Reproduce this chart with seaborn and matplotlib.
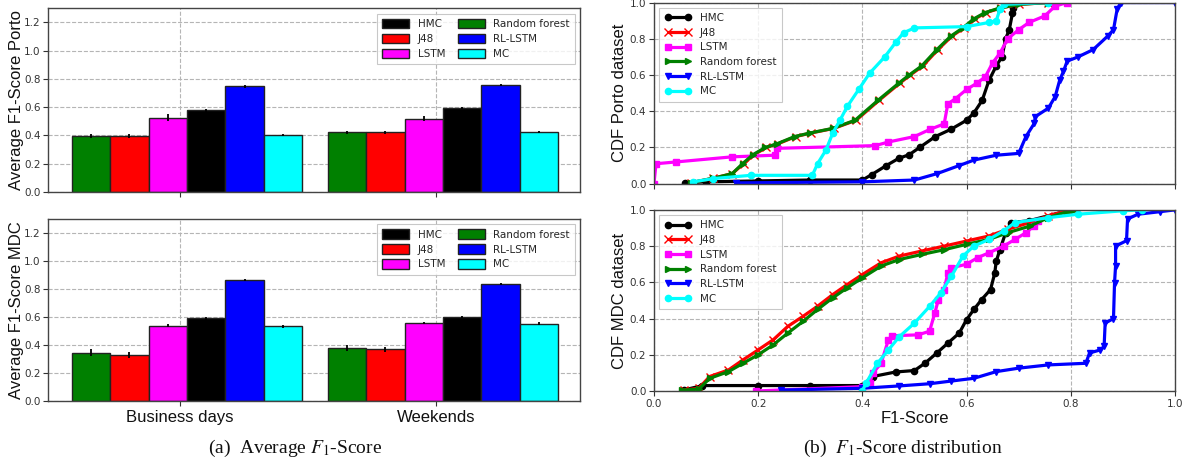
import matplotlib
matplotlib.use("Agg")
import matplotlib.pyplot as plt
import numpy as np
import pandas as pd
import seaborn as sns
from matplotlib.patches import Patch

# ---------------- data ----------------
methods = ["Random forest", "J48", "LSTM", "HMC", "RL-LSTM", "MC"]
legend_order = ["HMC", "J48", "LSTM", "Random forest", "RL-LSTM", "MC"]
periods = ["Business days", "Weekends"]

porto_business = [0.395, 0.395, 0.525, 0.578, 0.748, 0.402]
porto_weekends = [0.420, 0.420, 0.518, 0.595, 0.758, 0.421]
porto_business_err = [0.015, 0.015, 0.025, 0.010, 0.010, 0.010]
porto_weekends_err = [0.012, 0.012, 0.020, 0.008, 0.008, 0.008]

mdc_business = [0.343, 0.328, 0.537, 0.590, 0.863, 0.535]
mdc_weekends = [0.380, 0.368, 0.558, 0.600, 0.837, 0.553]
mdc_business_err = [0.025, 0.020, 0.010, 0.010, 0.008, 0.010]
mdc_weekends_err = [0.020, 0.015, 0.008, 0.008, 0.008, 0.008]

colors = {"Random forest": "#008000", "J48": "#ff0000", "LSTM": "#ff00ff",
          "HMC": "#000000", "RL-LSTM": "#0000ff", "MC": "#00ffff"}
markers = {"HMC": "o", "J48": "x", "LSTM": "s", "Random forest": ">",
           "RL-LSTM": "v", "MC": "o"}

# CDF, Porto dataset
porto_hmc_x = [0.06, 0.10, 0.20, 0.30, 0.40, 0.418, 0.446, 0.47, 0.49, 0.51, 0.54, 0.57, 0.60, 0.614, 0.63, 0.643, 0.657, 0.668, 0.675, 0.682, 0.688, 0.69]
porto_hmc_y = [0.005, 0.01, 0.015, 0.02, 0.02, 0.05, 0.10, 0.14, 0.16, 0.20, 0.26, 0.30, 0.35, 0.39, 0.46, 0.57, 0.65, 0.70, 0.80, 0.85, 0.94, 0.97]
porto_j48_x = [0.071, 0.114, 0.15, 0.172, 0.192, 0.216, 0.238, 0.272, 0.302, 0.345, 0.388, 0.432, 0.472, 0.492, 0.516, 0.545, 0.572, 0.595, 0.616, 0.638, 0.666, 0.70, 0.757]
porto_j48_y = [0.005, 0.03, 0.055, 0.11, 0.16, 0.20, 0.22, 0.26, 0.28, 0.305, 0.35, 0.46, 0.555, 0.60, 0.65, 0.74, 0.815, 0.86, 0.91, 0.945, 0.97, 0.99, 1.0]
porto_lstm_x = [0.0, 0.004, 0.043, 0.15, 0.232, 0.236, 0.425, 0.45, 0.50, 0.53, 0.557, 0.564, 0.579, 0.60, 0.62, 0.636, 0.65, 0.664, 0.679, 0.70, 0.72, 0.75, 0.77, 0.793]
porto_lstm_y = [0.0, 0.11, 0.12, 0.148, 0.157, 0.195, 0.21, 0.23, 0.26, 0.30, 0.33, 0.44, 0.47, 0.52, 0.555, 0.59, 0.667, 0.72, 0.80, 0.85, 0.89, 0.926, 0.98, 1.0]
porto_rf_x = [0.071, 0.114, 0.15, 0.17, 0.19, 0.214, 0.236, 0.27, 0.30, 0.343, 0.386, 0.43, 0.47, 0.49, 0.514, 0.543, 0.57, 0.593, 0.614, 0.636, 0.664, 0.70, 0.757]
porto_rf_y = [0.005, 0.03, 0.055, 0.11, 0.16, 0.20, 0.22, 0.26, 0.28, 0.305, 0.35, 0.46, 0.555, 0.60, 0.65, 0.74, 0.815, 0.86, 0.91, 0.945, 0.97, 0.99, 1.0]
porto_rl_x = [0.157, 0.40, 0.50, 0.543, 0.586, 0.614, 0.657, 0.70, 0.714, 0.73, 0.732, 0.757, 0.77, 0.779, 0.786, 0.793, 0.814, 0.843, 0.871, 0.882, 0.889, 0.896, 1.0]
porto_rl_y = [0.004, 0.01, 0.02, 0.055, 0.10, 0.13, 0.157, 0.167, 0.26, 0.333, 0.37, 0.417, 0.48, 0.574, 0.62, 0.676, 0.70, 0.74, 0.815, 0.85, 0.963, 1.0, 1.0]
porto_mc_x = [0.075, 0.114, 0.186, 0.304, 0.314, 0.33, 0.343, 0.357, 0.371, 0.393, 0.414, 0.443, 0.464, 0.479, 0.50, 0.60, 0.643, 0.657, 0.664, 0.671, 0.757]
porto_mc_y = [0.01, 0.028, 0.046, 0.046, 0.11, 0.185, 0.278, 0.35, 0.426, 0.52, 0.61, 0.70, 0.78, 0.833, 0.86, 0.867, 0.89, 0.90, 0.963, 0.99, 1.0]

# CDF, MDC dataset
mdc_hmc_x = [0.057, 0.093, 0.20, 0.30, 0.40, 0.42, 0.464, 0.50, 0.52, 0.543, 0.564, 0.586, 0.60, 0.614, 0.629, 0.646, 0.654, 0.657, 0.664, 0.675, 0.686, 0.72, 0.793]
mdc_hmc_y = [0.005, 0.03, 0.03, 0.03, 0.03, 0.08, 0.105, 0.113, 0.153, 0.21, 0.264, 0.32, 0.394, 0.45, 0.505, 0.56, 0.65, 0.717, 0.78, 0.874, 0.93, 0.94, 0.995]
mdc_j48_x = [0.057, 0.086, 0.107, 0.143, 0.171, 0.20, 0.229, 0.257, 0.286, 0.314, 0.343, 0.371, 0.40, 0.436, 0.471, 0.514, 0.557, 0.60, 0.643, 0.679, 0.721, 0.757, 0.793, 0.804]
mdc_j48_y = [0.005, 0.015, 0.08, 0.116, 0.172, 0.227, 0.283, 0.357, 0.412, 0.468, 0.532, 0.588, 0.643, 0.708, 0.745, 0.773, 0.80, 0.828, 0.856, 0.893, 0.93, 0.967, 0.995, 1.0]
mdc_lstm_x = [0.196, 0.40, 0.414, 0.42, 0.436, 0.45, 0.457, 0.507, 0.529, 0.539, 0.546, 0.557, 0.564, 0.571, 0.60, 0.621, 0.643, 0.671, 0.693, 0.714, 0.729, 0.737]
mdc_lstm_y = [0.0, 0.024, 0.043, 0.098, 0.153, 0.283, 0.305, 0.31, 0.33, 0.43, 0.505, 0.56, 0.652, 0.68, 0.70, 0.736, 0.763, 0.80, 0.837, 0.874, 0.91, 0.94]
mdc_rf_x = [0.054, 0.086, 0.107, 0.143, 0.171, 0.20, 0.229, 0.257, 0.286, 0.314, 0.343, 0.371, 0.40, 0.436, 0.471, 0.514, 0.557, 0.60, 0.643, 0.679, 0.721, 0.757, 0.793, 0.807]
mdc_rf_y = [0.005, 0.01, 0.07, 0.107, 0.153, 0.20, 0.255, 0.32, 0.384, 0.45, 0.514, 0.57, 0.625, 0.69, 0.726, 0.754, 0.78, 0.81, 0.837, 0.874, 0.91, 0.957, 0.99, 1.0]
mdc_rl_x = [0.243, 0.40, 0.471, 0.529, 0.571, 0.614, 0.657, 0.70, 0.757, 0.829, 0.836, 0.857, 0.864, 0.866, 0.882, 0.884, 0.886, 0.886, 0.907, 0.909, 0.929, 0.971, 1.0]
mdc_rl_y = [0.005, 0.015, 0.028, 0.04, 0.055, 0.07, 0.107, 0.126, 0.144, 0.153, 0.21, 0.227, 0.246, 0.375, 0.40, 0.597, 0.69, 0.80, 0.83, 0.95, 0.976, 0.99, 1.0]
mdc_mc_x = [0.40, 0.407, 0.429, 0.45, 0.471, 0.50, 0.529, 0.55, 0.571, 0.593, 0.614, 0.643, 0.671, 0.693, 0.757, 0.814, 0.90, 0.936]
mdc_mc_y = [0.0, 0.043, 0.153, 0.227, 0.30, 0.375, 0.467, 0.54, 0.634, 0.745, 0.80, 0.837, 0.884, 0.93, 0.957, 0.976, 0.995, 1.0]

porto_cdf = {"HMC": (porto_hmc_x, porto_hmc_y), "J48": (porto_j48_x, porto_j48_y),
             "LSTM": (porto_lstm_x, porto_lstm_y), "Random forest": (porto_rf_x, porto_rf_y),
             "RL-LSTM": (porto_rl_x, porto_rl_y), "MC": (porto_mc_x, porto_mc_y)}
mdc_cdf = {"HMC": (mdc_hmc_x, mdc_hmc_y), "J48": (mdc_j48_x, mdc_j48_y),
           "LSTM": (mdc_lstm_x, mdc_lstm_y), "Random forest": (mdc_rf_x, mdc_rf_y),
           "RL-LSTM": (mdc_rl_x, mdc_rl_y), "MC": (mdc_mc_x, mdc_mc_y)}

# ---------------- style ----------------
sns.set_theme(style="ticks")
plt.rcParams["font.family"] = ["DejaVu Sans"]
plt.rcParams["mathtext.fontset"] = "stix"
LABEL_FONT = "Liberation Sans"
SPINE = "#444444"
GRID = dict(color="#b5b5b5", linestyle="--", linewidth=0.8)

fig = plt.figure(figsize=(11.86, 4.62), dpi=100)
ax_pb = fig.add_axes([0.0405, 0.585, 0.4486, 0.397])
ax_mb = fig.add_axes([0.0405, 0.132, 0.4486, 0.394])
ax_pc = fig.add_axes([0.5514, 0.6025, 0.4393, 0.392])
ax_mc = fig.add_axes([0.5514, 0.1537, 0.4393, 0.392])


def style_axes(ax):
    for s in ax.spines.values():
        s.set_color(SPINE)
        s.set_linewidth(1.0)
    ax.tick_params(axis="both", labelsize=7.5, colors="#333333", length=3.5,
                   width=0.8, pad=2)
    ax.grid(True, **GRID)
    ax.set_axisbelow(True)


def bar_panel(ax, business, weekends, err_b, err_w, ylabel, show_xlabels):
    df = pd.DataFrame({
        "period": [periods[0]] * len(methods) + [periods[1]] * len(methods),
        "method": methods * 2,
        "value": business + weekends,
    })
    errs = {m: (eb, ew) for m, eb, ew in zip(methods, err_b, err_w)}
    sns.barplot(data=df, x="period", y="value", hue="method", hue_order=methods,
                palette=colors, width=0.9, saturation=1, errorbar=None,
                edgecolor="#222222", linewidth=1.0, ax=ax, legend=False)
    for cont, m in zip(ax.containers, methods):
        xs = [p.get_x() + p.get_width() / 2 for p in cont.patches]
        hs = [p.get_height() for p in cont.patches]
        ax.errorbar(xs, hs, yerr=list(errs[m]), fmt="none", ecolor="black",
                    elinewidth=1.3, capsize=0, zorder=5)
    style_axes(ax)
    ax.set_ylim(0, 1.3)
    ax.set_yticks(np.arange(0, 1.21, 0.2))
    ax.set_xlim(-0.543, 1.535)
    ax.set_xticks([-0.027, 0.973])
    if show_xlabels:
        ax.set_xticklabels(periods, fontsize=12, family=LABEL_FONT, color="#111111")
        ax.tick_params(axis="x", pad=3)
    else:
        ax.set_xticklabels([])
    ax.set_xlabel("")
    ax.set_ylabel(ylabel, fontsize=12, family=LABEL_FONT, color="#111111", labelpad=0)
    handles = [Patch(facecolor=colors[m], edgecolor="#222222", linewidth=1.0, label=m)
               for m in legend_order]
    leg = ax.legend(handles=handles, loc="upper right", ncol=2, fontsize=7.5,
                    frameon=True, fancybox=False, edgecolor="#bbbbbb",
                    handlelength=2.6, handleheight=1.0, columnspacing=1.2,
                    borderpad=0.5, labelspacing=0.45)
    leg.get_frame().set_linewidth(0.8)


def cdf_panel(ax, cdf, ylabel, show_xlabels):
    for m in legend_order:
        xs, ys = cdf[m]
        ms = 5.5 if m == "J48" else 4.5
        sns.lineplot(x=xs, y=ys, sort=False, estimator=None, ax=ax, color=colors[m],
                     linewidth=2.3, marker=markers[m], markersize=ms,
                     markeredgecolor=colors[m], markeredgewidth=1.0, label=m)
    style_axes(ax)
    ax.set_xlim(0, 1)
    ax.set_ylim(0, 1)
    ax.set_xticks(np.arange(0, 1.01, 0.2))
    ax.set_yticks(np.arange(0, 1.01, 0.2))
    if not show_xlabels:
        ax.set_xticklabels([])
    else:
        ax.set_xlabel("F1-Score", fontsize=12, family=LABEL_FONT, color="#111111", labelpad=2)
    ax.set_ylabel(ylabel, fontsize=12, family=LABEL_FONT, color="#111111", labelpad=2)
    leg = ax.legend(loc="upper left", fontsize=7.5, numpoints=2, frameon=True,
                    fancybox=False, edgecolor="#bbbbbb", handlelength=2.6,
                    borderpad=0.5, labelspacing=0.45)
    leg.get_frame().set_linewidth(0.8)


bar_panel(ax_pb, porto_business, porto_weekends, porto_business_err, porto_weekends_err,
          "Average F1-Score Porto", False)
bar_panel(ax_mb, mdc_business, mdc_weekends, mdc_business_err, mdc_weekends_err,
          "Average F1-Score MDC", True)
cdf_panel(ax_pc, porto_cdf, "CDF Porto dataset", False)
cdf_panel(ax_mc, mdc_cdf, "CDF MDC dataset", True)

fig.text(0.2487, 0.030, r"(a)  Average $F_1$-Score", ha="center", va="center",
         fontsize=14, family="Liberation Serif", color="#111111")
fig.text(0.7614, 0.030, r"(b)  $F_1$-Score distribution", ha="center", va="center",
         fontsize=14, family="Liberation Serif", color="#111111")

fig.savefig("out.png", dpi=100, facecolor="white")
